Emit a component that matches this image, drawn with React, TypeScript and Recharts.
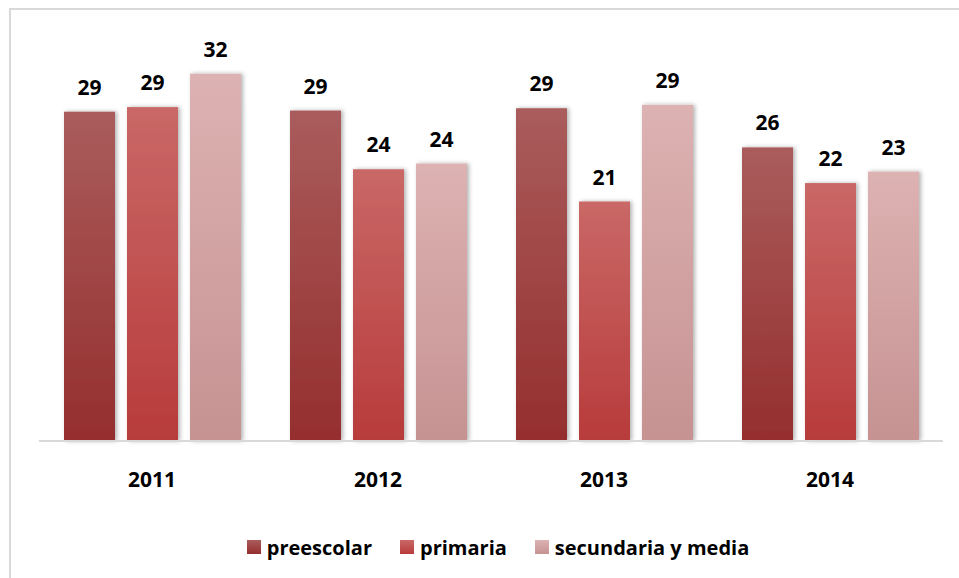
import React from "react";
import { BarChart, Bar, XAxis, YAxis, LabelList, Legend } from "recharts";

const years = ["2011", "2012", "2013", "2014"];
const preescolar = [28.6, 28.7, 28.9, 25.5];
const primaria = [29.0, 23.6, 20.8, 22.4];
const secundaria = [31.9, 24.1, 29.2, 23.4];

const seriesNames = ["preescolar", "primaria", "secundaria y media"];

const data = years.map((year, i) => ({
  year,
  preescolar: preescolar[i],
  primaria: primaria[i],
  secundaria: secundaria[i],
}));

const FONT = "'Open Sans', 'Liberation Sans', sans-serif";

// gradient stops per series: [top, bottom]
const gradients = [
  { id: "gPre", top: "#aa5c5c", bottom: "#952e2e" },
  { id: "gPri", top: "#c96866", bottom: "#b83b3b" },
  { id: "gSec", top: "#ddb2b2", bottom: "#c69292" },
];

const labelStyle = { fill: "#000", fontSize: 21, fontWeight: 700, fontFamily: FONT };

const ShadowBar = (props: any) => {
  const { x, y, width, height, fill } = props;
  if (!height || height <= 0) return null;
  return (
    <rect
      x={x}
      y={y}
      width={width}
      height={height}
      fill={fill}
      filter="url(#barShadow)"
    />
  );
};

const CustomLegend = () => (
  <div
    style={{
      display: "flex",
      justifyContent: "center",
      alignItems: "center",
      gap: 28,
      paddingLeft: 14,
      height: 30,
      fontFamily: FONT,
      fontWeight: 700,
      fontSize: 20,
      color: "#000",
    }}
  >
    {seriesNames.map((name, i) => (
      <div key={name} style={{ display: "flex", alignItems: "center", gap: 6 }}>
        <div
          style={{
            width: 14,
            height: 14,
            background: `linear-gradient(${gradients[i].top}, ${gradients[i].bottom})`,
          }}
        />
        <span>{name}</span>
      </div>
    ))}
  </div>
);

export default function App() {
  return (
    <div
      style={{
        position: "absolute",
        left: 0,
        top: 0,
        width: 959,
        height: 578,
        overflow: "hidden",
        background: "#fff",
      }}
    >
      {/* outer frame, cut by the page edges */}
      <div
        style={{
          position: "absolute",
          left: 9,
          top: 8,
          width: 1000,
          height: 620,
          border: "2px solid #d9d9d9",
        }}
      />
      <div style={{ position: "absolute", left: 0, top: 0 }}>
        <BarChart
          width={959}
          height={578}
          data={data}
          margin={{ top: 38, right: 16, bottom: 16, left: 39 }}
          barSize={51}
          barGap={12}
        >
          <defs>
            {gradients.map((g) => (
              <linearGradient key={g.id} id={g.id} x1="0" y1="0" x2="0" y2="1">
                <stop offset="0%" stopColor={g.top} />
                <stop offset="100%" stopColor={g.bottom} />
              </linearGradient>
            ))}
            <filter id="barShadow" x="-30%" y="-10%" width="160%" height="120%">
              <feDropShadow dx="2" dy="0" stdDeviation="2" floodColor="#000" floodOpacity="0.3" />
            </filter>
          </defs>
          <XAxis
            dataKey="year"
            height={91}
            axisLine={{ stroke: "#d9d9d9", strokeWidth: 2 }}
            tickLine={false}
            tickMargin={25}
            tick={labelStyle}
          />
          <YAxis hide domain={[0, 35]} />
          <Legend verticalAlign="bottom" content={<CustomLegend />} />
          <Bar dataKey="preescolar" name={seriesNames[0]} fill="url(#gPre)" shape={ShadowBar} isAnimationActive={false}>
            <LabelList
              dataKey="preescolar"
              position="top"
              offset={17}
              formatter={(v: any) => Math.round(Number(v))}
              style={labelStyle}
            />
          </Bar>
          <Bar dataKey="primaria" name={seriesNames[1]} fill="url(#gPri)" shape={ShadowBar} isAnimationActive={false}>
            <LabelList
              dataKey="primaria"
              position="top"
              offset={17}
              formatter={(v: any) => Math.round(Number(v))}
              style={labelStyle}
            />
          </Bar>
          <Bar dataKey="secundaria" name={seriesNames[2]} fill="url(#gSec)" shape={ShadowBar} isAnimationActive={false}>
            <LabelList
              dataKey="secundaria"
              position="top"
              offset={17}
              formatter={(v: any) => Math.round(Number(v))}
              style={labelStyle}
            />
          </Bar>
        </BarChart>
      </div>
    </div>
  );
}
